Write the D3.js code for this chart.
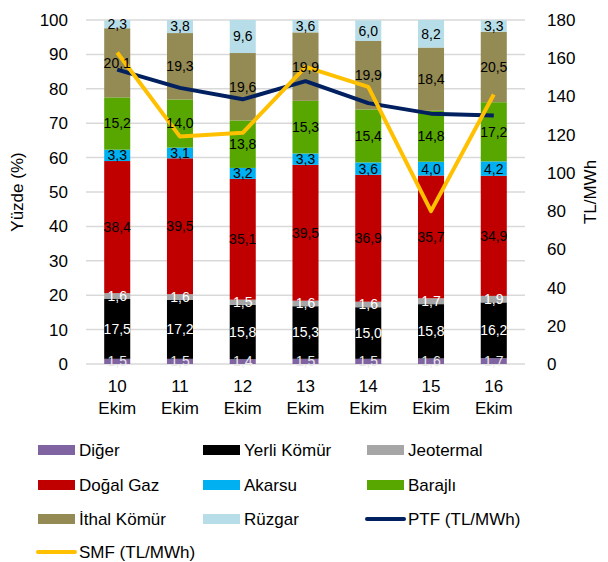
<!DOCTYPE html>
<html><head><meta charset="utf-8">
<script src="https://cdn.jsdelivr.net/npm/d3@7"></script>
<style>body{margin:0;background:#fff}svg{font-family:"Liberation Sans",Arial,sans-serif}</style>
</head><body><svg id="c" width="608" height="562"></svg>
<script>
const days = ["10", "11", "12", "13", "14", "15", "16"];
const month = "Ekim";
const seriesNames = ["Diğer", "Yerli Kömür", "Jeotermal", "Doğal Gaz", "Akarsu", "Barajlı", "İthal Kömür", "Rüzgar"];
const diger = [1.5, 1.5, 1.4, 1.5, 1.5, 1.6, 1.7];
const yerli = [17.5, 17.2, 15.8, 15.3, 15.0, 15.8, 16.2];
const jeotermal = [1.6, 1.6, 1.5, 1.6, 1.6, 1.7, 1.9];
const dogalGaz = [38.4, 39.5, 35.1, 39.5, 36.9, 35.7, 34.9];
const akarsu = [3.3, 3.1, 3.2, 3.3, 3.6, 4.0, 4.2];
const barajli = [15.2, 14.0, 13.8, 15.3, 15.4, 14.8, 17.2];
const ithal = [20.1, 19.3, 19.6, 19.9, 19.9, 18.4, 20.5];
const ruzgar = [2.3, 3.8, 9.6, 3.6, 6.0, 8.2, 3.3];
const ptf = [154, 144.5, 138.5, 148, 136.5, 131, 130];
const smf = [163, 119, 121, 155.5, 145, 80, 141];
const leftTicks = [0, 10, 20, 30, 40, 50, 60, 70, 80, 90, 100];
const rightTicks = [0, 20, 40, 60, 80, 100, 120, 140, 160, 180];

const colors = ["#8064A2", "#000000", "#A6A6A6", "#C00000", "#00B0F0", "#58A600", "#948A54", "#B7DEE8"];
const labelColors = ["#E8E8E8", "#FFFFFF", "#FFFFFF", "#000", "#000", "#000", "#000", "#000"];
const values = [diger, yerli, jeotermal, dogalGaz, akarsu, barajli, ithal, ruzgar];

const svg = d3.select("#c");
const x0 = 86, x1 = 525, yTop = 20, yBot = 364;
const x = d3.scaleBand().domain(days).range([x0, x1]).paddingInner(0.585).paddingOuter(0.29);
const y = d3.scaleLinear().domain([0, 100]).range([yBot, yTop]);
const y2 = d3.scaleLinear().domain([0, 180]).range([yBot, yTop]);

// gridlines
svg.append("g").selectAll("line").data(leftTicks.slice(1)).join("line")
  .attr("x1", x0).attr("x2", x1).attr("y1", d => y(d)).attr("y2", d => y(d))
  .attr("stroke", "#D9D9D9").attr("stroke-width", 1.5);
svg.append("line").attr("x1", x0).attr("x2", x1).attr("y1", y(0)).attr("y2", y(0))
  .attr("stroke", "#D9D9D9").attr("stroke-width", 1.5);

// stacks
const table = days.map((d, i) => { const o = {day: d}; seriesNames.forEach((s, k) => o[s] = values[k][i]); return o; });
const stack = d3.stack().keys(seriesNames)(table);
const gBars = svg.append("g");
stack.forEach((layer, k) => {
  gBars.append("g").selectAll("rect").data(layer).join("rect")
    .attr("x", d => x(d.data.day)).attr("width", x.bandwidth())
    .attr("y", d => y(Math.min(d[1], 100))).attr("height", d => y(d[0]) - y(Math.min(d[1], 100)))
    .attr("fill", colors[k]);
});

// lines
const xc = d => x(d) + x.bandwidth() / 2;
const line = d3.line().x((d, i) => xc(days[i])).y(d => y2(d));
svg.append("path").datum(ptf).attr("d", line).attr("fill", "none").attr("stroke", "#002060").attr("stroke-width", 4).attr("stroke-linejoin", "round");
svg.append("path").datum(smf).attr("d", line).attr("fill", "none").attr("stroke", "#FFC000").attr("stroke-width", 4).attr("stroke-linejoin", "round");

// data labels
const fmt = v => v.toFixed(1).replace(".", ",");
stack.forEach((layer, k) => {
  svg.append("g").selectAll("text").data(layer).join("text")
    .attr("x", d => xc(d.data.day)).attr("y", d => y((d[0] + Math.min(d[1], 100)) / 2))
    .attr("dy", "0.35em").attr("text-anchor", "middle").attr("font-size", 14)
    .attr("fill", labelColors[k]).text(d => fmt(d[1] - d[0]));
});

// axes labels
svg.append("g").selectAll("text").data(leftTicks).join("text")
  .attr("x", 68).attr("y", d => y(d)).attr("dy", "0.35em").attr("text-anchor", "end")
  .attr("font-size", 17).attr("fill", "#000").text(d => d);
svg.append("g").selectAll("text").data(rightTicks).join("text")
  .attr("x", 547).attr("y", d => y2(d)).attr("dy", "0.35em").attr("text-anchor", "start")
  .attr("font-size", 17).attr("fill", "#000").text(d => d);
const xl = svg.append("g").selectAll("text").data(days).join("text")
  .attr("x", d => xc(d)).attr("text-anchor", "middle").attr("font-size", 17).attr("fill", "#000");
xl.append("tspan").attr("x", d => xc(d)).attr("y", 392).text(d => d);
xl.append("tspan").attr("x", d => xc(d)).attr("y", 414).text(month);

svg.append("text").attr("transform", "translate(23,192) rotate(-90)").attr("text-anchor", "middle")
  .attr("font-size", 17).text("Yüzde (%)");
svg.append("text").attr("transform", "translate(596,192) rotate(-90)").attr("text-anchor", "middle")
  .attr("font-size", 17).text("TL/MWh");

// legend
const legendItems = seriesNames.map((s, k) => ({name: s, color: colors[k], type: "rect"}))
  .concat([{name: "PTF (TL/MWh)", color: "#002060", type: "line"}, {name: "SMF (TL/MWh)", color: "#FFC000", type: "line"}]);
const colX = [38, 203, 367], rowY = [450, 485, 519, 552];
const lg = svg.append("g").selectAll("g").data(legendItems).join("g")
  .attr("transform", (d, i) => `translate(${colX[i % 3]},${rowY[Math.floor(i / 3)]})`);
lg.filter(d => d.type === "rect").append("rect").attr("x", 0).attr("y", -5).attr("width", 37).attr("height", 10).attr("fill", d => d.color);
lg.filter(d => d.type === "line").append("line").attr("x1", 0).attr("x2", 37).attr("y1", 0).attr("y2", 0)
  .attr("stroke", d => d.color).attr("stroke-width", 4).attr("stroke-linecap", "round");
lg.append("text").attr("x", 41).attr("y", 0).attr("dy", "0.35em").attr("font-size", 17).attr("fill", "#000").text(d => d.name);
</script></body></html>
